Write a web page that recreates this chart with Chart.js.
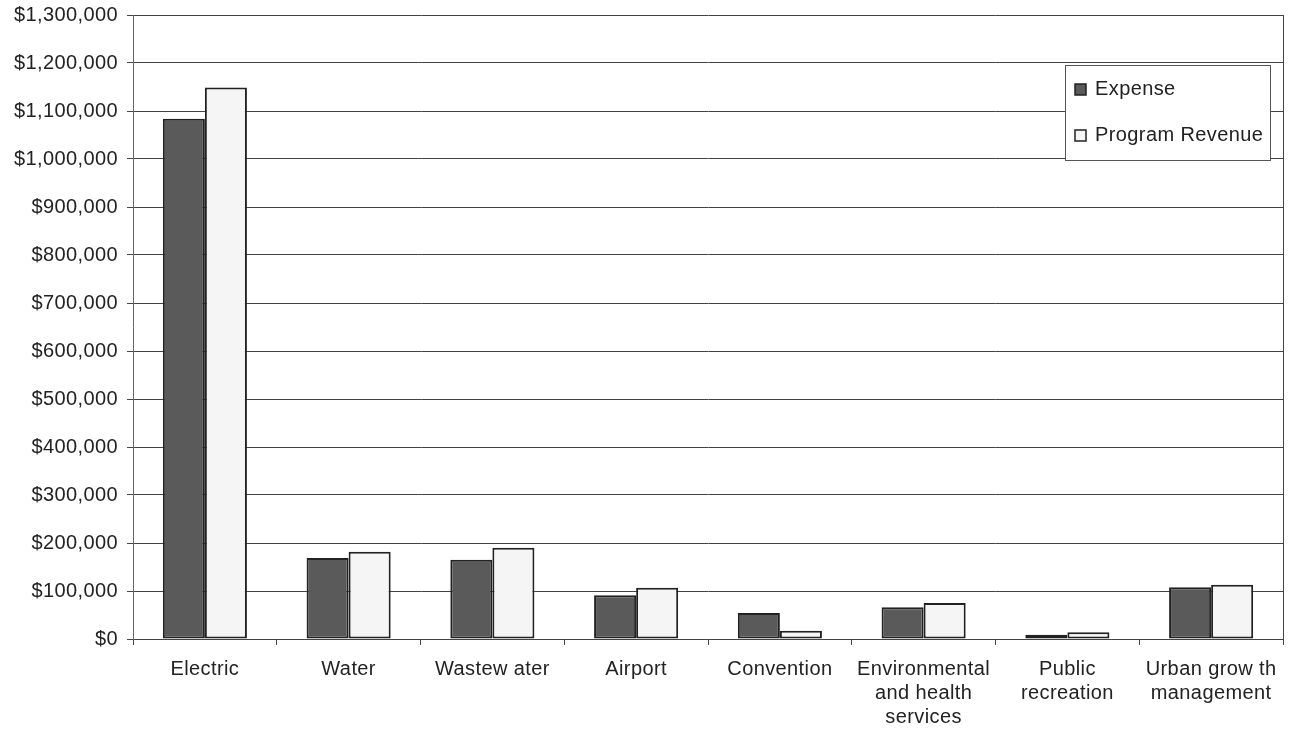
<!DOCTYPE html>
<html>
<head>
<meta charset="utf-8">
<script src="https://cdn.jsdelivr.net/npm/chart.js@4.4.1/dist/chart.umd.min.js"></script>
<style>
  html, body { margin: 0; padding: 0; background: #fff; }
  #wrap { width: 1291px; height: 740px; position: relative; }
</style>
</head>
<body>
<div id="wrap"><canvas id="c" width="1291" height="740"></canvas></div>
<script>
// Enterprise activities: expense vs. program revenue
const categories = [
  ['Electric'],
  ['Water'],
  ['Wastew ater'],
  ['Airport'],
  ['Convention'],
  ['Environmental', 'and health', 'services'],
  ['Public', 'recreation'],
  ['Urban grow th', 'management']
];
const expense = [1084000, 169000, 165000, 91000, 54000, 66000, 9000, 108000];
const programRevenue = [1149000, 182000, 190000, 107000, 17000, 75000, 14000, 113000];
const seriesNames = ['Expense', 'Program Revenue'];
const yMax = 1300000;
const yStep = 100000;

const FONT = 'Liberation Sans, Arial, sans-serif';
const FONT_SIZE = 20;
const LETTER_SPACING = '0.4px';

// Slightly tracked-out lettering for all chart text
const spacingPlugin = {
  id: 'letterSpacing',
  beforeLayout(chart) { chart.ctx.letterSpacing = LETTER_SPACING; },
  beforeDraw(chart) { chart.ctx.letterSpacing = LETTER_SPACING; }
};

// Boxed legend in the upper right plus the right-hand frame line
const framePlugin = {
  id: 'frameAndLegend',
  afterDraw(chart) {
    const { ctx, chartArea } = chart;
    ctx.save();
    ctx.strokeStyle = '#444';
    ctx.lineWidth = 1;
    ctx.beginPath();
    ctx.moveTo(Math.round(chartArea.right) + 0.5, chartArea.top);
    ctx.lineTo(Math.round(chartArea.right) + 0.5, chartArea.bottom);
    ctx.stroke();

    const bx = 1065.5, by = 65.5, bw = 205, bh = 95;
    ctx.fillStyle = '#fff';
    ctx.fillRect(bx, by, bw, bh);
    ctx.strokeStyle = '#555';
    ctx.strokeRect(bx, by, bw, bh);

    const rows = [89, 135];
    chart.data.datasets.forEach((ds, i) => {
      const cy = rows[i];
      ctx.fillStyle = ds.backgroundColor;
      ctx.fillRect(1075, cy - 5, 11, 11);
      ctx.strokeStyle = '#222';
      ctx.lineWidth = 1.5;
      ctx.strokeRect(1075, cy - 5, 11, 11);
      ctx.fillStyle = '#222';
      ctx.font = FONT_SIZE + 'px ' + FONT;
      ctx.letterSpacing = LETTER_SPACING;
      ctx.textBaseline = 'middle';
      ctx.textAlign = 'left';
      ctx.fillText(ds.label, 1095, cy);
    });
    ctx.restore();
  }
};

new Chart(document.getElementById('c'), {
  type: 'bar',
  data: {
    labels: categories,
    datasets: [
      {
        label: seriesNames[0],
        data: expense,
        backgroundColor: '#5a5a5a',
        borderColor: '#222',
        borderWidth: 2,
        borderSkipped: false
      },
      {
        label: seriesNames[1],
        data: programRevenue,
        backgroundColor: '#f5f5f5',
        borderColor: '#222',
        borderWidth: 2,
        borderSkipped: false
      }
    ]
  },
  options: {
    responsive: false,
    animation: false,
    layout: { padding: { top: 15, right: 8, left: 0, bottom: 0 } },
    datasets: {
      bar: { categoryPercentage: 0.585, barPercentage: 1.0 }
    },
    plugins: {
      legend: { display: false },
      tooltip: { enabled: false }
    },
    scales: {
      x: {
        grid: {
          offset: true,
          drawOnChartArea: false,
          drawTicks: true,
          tickLength: 6,
          color: '#444'
        },
        border: { display: true, color: '#444', width: 1 },
        ticks: {
          color: '#222',
          font: { family: FONT, size: FONT_SIZE, lineHeight: 1.2 },
          padding: 12,
          maxRotation: 0,
          autoSkip: false
        },
        afterFit(scale) {
          scale.height = 101;
          scale.paddingLeft = 0;
          scale.paddingRight = 0;
        }
      },
      y: {
        min: 0,
        max: yMax,
        grid: {
          color: '#444',
          lineWidth: 1,
          drawTicks: true,
          tickLength: 6
        },
        border: { display: true, color: '#666', width: 1 },
        ticks: {
          stepSize: yStep,
          color: '#222',
          font: { family: FONT, size: FONT_SIZE },
          padding: 9,
          callback: v => '$' + Number(v).toLocaleString('en-US')
        },
        afterFit(scale) {
          scale.width = 133;
          scale.paddingTop = 0;
          scale.paddingBottom = 0;
        }
      }
    }
  },
  plugins: [spacingPlugin, framePlugin]
});
</script>
</body>
</html>
